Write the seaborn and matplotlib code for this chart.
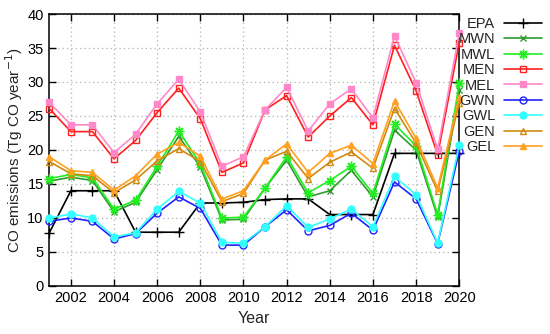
import matplotlib
matplotlib.use("Agg")
import matplotlib.pyplot as plt
import seaborn as sns
import pandas as pd

years = list(range(2001, 2021))

EPA = [7.8, 14.0, 14.0, 14.0, 7.9, 7.9, 7.9, 12.2, 12.2, 12.3, 12.7, 12.8, 12.8, 10.5, 10.5, 10.5, 19.5, 19.5, 19.5, 19.5]
MWN = [15.4, 16.0, 15.5, 10.9, 12.3, 17.1, 22.0, 17.5, 9.7, 9.8, 14.4, 18.5, 13.1, 14.0, 17.0, 13.1, 22.9, 20.0, 10.1, 28.8]
MWL = [15.8, 16.4, 15.9, 11.3, 12.6, 17.6, 22.8, 18.0, 10.0, 10.1, 14.4, 19.0, 13.7, 15.5, 17.6, 13.6, 23.8, 20.6, 10.5, 29.8]
MEN = [26.1, 22.7, 22.7, 18.7, 21.4, 25.5, 29.1, 24.6, 16.7, 18.1, 25.9, 28.0, 21.9, 25.0, 27.7, 23.7, 35.4, 28.7, 19.3, 35.8]
MEL = [27.0, 23.7, 23.7, 19.6, 22.3, 26.8, 30.4, 25.6, 17.6, 19.0, 25.9, 29.2, 22.8, 26.8, 29.0, 24.7, 36.8, 29.9, 20.1, 37.2]
GWN = [9.5, 10.0, 9.5, 6.9, 7.7, 10.7, 13.1, 11.4, 6.0, 6.0, 8.7, 11.2, 8.1, 8.9, 10.7, 8.2, 15.3, 12.8, 6.2, 19.8]
GWL = [9.95, 10.6, 10.0, 7.2, 7.8, 11.3, 13.9, 12.2, 6.4, 6.3, 8.7, 11.8, 8.6, 9.85, 11.3, 8.7, 16.1, 13.4, 6.3, 20.7]
GEN = [18.3, 16.5, 16.2, 13.7, 15.6, 18.4, 20.2, 18.3, 12.4, 13.6, 18.5, 19.8, 15.8, 18.2, 19.7, 17.3, 26.1, 21.0, 13.9, 26.9]
GEL = [19.0, 16.95, 16.7, 14.1, 16.2, 19.4, 21.1, 19.1, 12.8, 14.0, 18.5, 20.9, 16.7, 19.5, 20.7, 18.0, 27.2, 21.7, 14.4, 27.8]

series_names = ["EPA", "MWN", "MWL", "MEN", "MEL", "GWN", "GWL", "GEN", "GEL"]
series_vals = [EPA, MWN, MWL, MEN, MEL, GWN, GWL, GEN, GEL]
colors = ["#000000", "#2e9a2e", "#22ee22", "#ff2020", "#ff88c8", "#2222ff", "#33ffff", "#d08a10", "#ffa020"]
markers = ["+", "x", (8, 2, 0), "s", "s", "o", "o", "^", "^"]
filled = [True, True, True, False, True, False, True, False, True]
msizes = [7, 5, 7, 5, 5, 5, 5, 5, 5]

xticks = list(range(2002, 2021, 2))
yticks = list(range(0, 41, 5))

df = pd.DataFrame({"Year": years * len(series_names),
                   "value": sum(series_vals, []),
                   "series": sum([[n] * len(years) for n in series_names], [])})

sns.set_style("ticks")
plt.rcParams["font.family"] = ["Liberation Sans", "DejaVu Sans"]

fig = plt.figure(figsize=(5.5, 3.34), dpi=100)
ax = fig.add_axes([0.0896, 0.144, 0.7454, 0.814])

for name, c, m, f, ms in zip(series_names, colors, markers, filled, msizes):
    sub = df[df["series"] == name]
    sns.lineplot(data=sub, x="Year", y="value", ax=ax, color=c, marker=m,
                 markersize=ms, markerfacecolor=(c if f else "none"),
                 markeredgecolor=c, markeredgewidth=1.0, linewidth=1.2,
                 label=name, clip_on=False, zorder=3)

ax.set_xlim(2001, 2020)
ax.set_ylim(0, 40)
ax.set_xticks(xticks)
ax.set_yticks(yticks)
ax.tick_params(direction="in", top=True, right=True, length=5, width=1,
               labelsize=10.5, colors="black", pad=4)
ax.grid(True, linestyle=(0, (1, 2.5)), color="#b0b0b0", linewidth=0.9)
for s in ax.spines.values():
    s.set_linewidth(1.1)
    s.set_color("black")
ax.set_xlabel("Year", fontsize=11.5, labelpad=4)
ax.set_ylabel("CO emissions (Tg CO year$^{-1}$)", fontsize=11, labelpad=2)

leg = ax.legend(loc="upper right", bbox_to_anchor=(0.985, 0.95),
                bbox_transform=fig.transFigure, frameon=False, markerfirst=False,
                fontsize=10.5, handlelength=2.6, handletextpad=0.6,
                labelspacing=0.1, borderpad=0, borderaxespad=0)

fig.savefig("out.png", dpi=100)
